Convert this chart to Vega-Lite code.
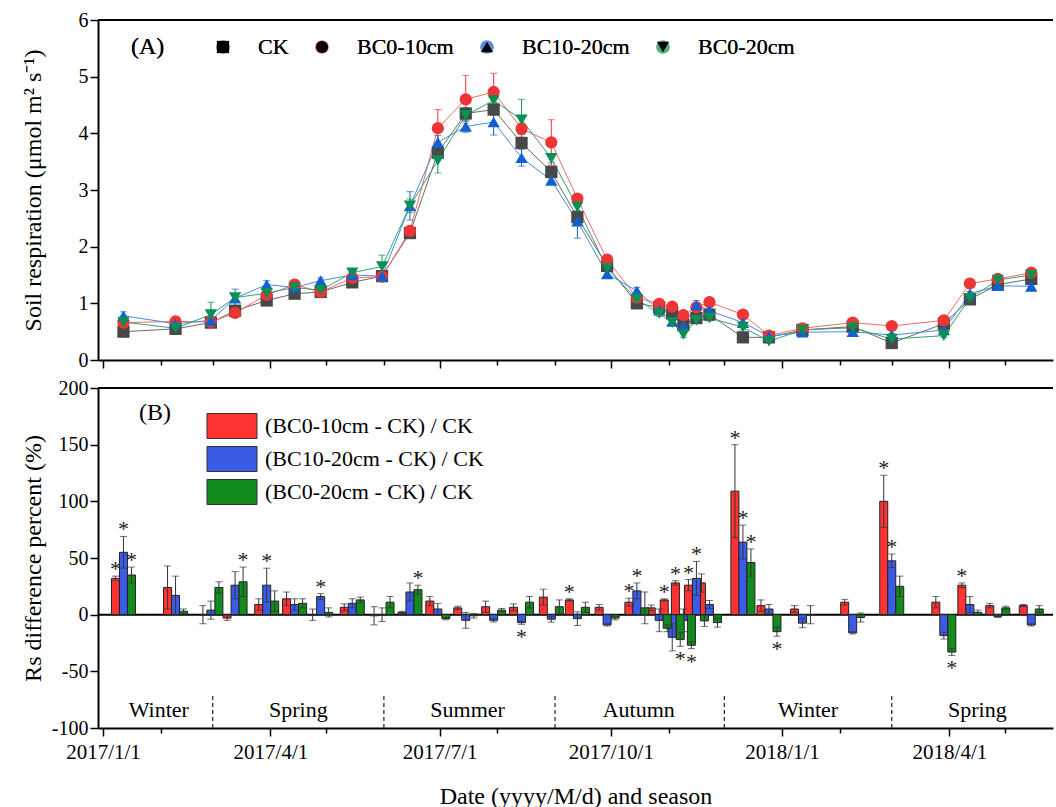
{
  "$schema": "https://vega.github.io/schema/vega-lite/v6.json",
  "padding": {"left": 21, "top": 10, "right": 0, "bottom": 0},
  "spacing": 28,
  "bounds": "flush",
  "resolve": {"scale": {"color": "independent", "x": "shared"}, "legend": {"color": "independent"}},
  "config": {
    "view": {"stroke": null},
    "font": "Liberation Serif",
    "axis": {
      "domainColor": "#000", "domainWidth": 2, "tickColor": "#000", "tickWidth": 1.5,
      "labelFont": "Liberation Serif", "labelFontSize": 20, "labelColor": "#000",
      "titleFont": "Liberation Serif", "titleFontSize": 24, "titleFontWeight": "normal", "titleColor": "#000",
      "grid": false, "labelOverlap": false
    }
  },
  "datasets": {
    "rs": [
      {"d":"2017-01-12","s":"CK","v":0.50,"e":0.05},{"d":"2017-01-12","s":"BC0-10cm","v":0.66,"e":0.06},{"d":"2017-01-12","s":"BC10-20cm","v":0.78,"e":0.07},{"d":"2017-01-12","s":"BC0-20cm","v":0.67,"e":0.05},
      {"d":"2017-02-09","s":"CK","v":0.55,"e":0.05},{"d":"2017-02-09","s":"BC0-10cm","v":0.68,"e":0.05},{"d":"2017-02-09","s":"BC10-20cm","v":0.64,"e":0.06},{"d":"2017-02-09","s":"BC0-20cm","v":0.56,"e":0.06},
      {"d":"2017-02-28","s":"CK","v":0.66,"e":0.05},{"d":"2017-02-28","s":"BC0-10cm","v":0.67,"e":0.05},{"d":"2017-02-28","s":"BC10-20cm","v":0.70,"e":0.06},{"d":"2017-02-28","s":"BC0-20cm","v":0.80,"e":0.22},
      {"d":"2017-03-13","s":"CK","v":0.87,"e":0.05},{"d":"2017-03-13","s":"BC0-10cm","v":0.83,"e":0.05},{"d":"2017-03-13","s":"BC10-20cm","v":1.09,"e":0.16},{"d":"2017-03-13","s":"BC0-20cm","v":1.10,"e":0.06},
      {"d":"2017-03-30","s":"CK","v":1.05,"e":0.07},{"d":"2017-03-30","s":"BC0-10cm","v":1.15,"e":0.05},{"d":"2017-03-30","s":"BC10-20cm","v":1.33,"e":0.07},{"d":"2017-03-30","s":"BC0-20cm","v":1.18,"e":0.05},
      {"d":"2017-04-14","s":"CK","v":1.17,"e":0.05},{"d":"2017-04-14","s":"BC0-10cm","v":1.33,"e":0.08},{"d":"2017-04-14","s":"BC10-20cm","v":1.28,"e":0.06},{"d":"2017-04-14","s":"BC0-20cm","v":1.28,"e":0.05},
      {"d":"2017-04-28","s":"CK","v":1.20,"e":0.05},{"d":"2017-04-28","s":"BC0-10cm","v":1.20,"e":0.08},{"d":"2017-04-28","s":"BC10-20cm","v":1.40,"e":0.05},{"d":"2017-04-28","s":"BC0-20cm","v":1.23,"e":0.05},
      {"d":"2017-05-15","s":"CK","v":1.37,"e":0.08},{"d":"2017-05-15","s":"BC0-10cm","v":1.45,"e":0.05},{"d":"2017-05-15","s":"BC10-20cm","v":1.50,"e":0.05},{"d":"2017-05-15","s":"BC0-20cm","v":1.54,"e":0.05},
      {"d":"2017-05-31","s":"CK","v":1.48,"e":0.06},{"d":"2017-05-31","s":"BC0-10cm","v":1.47,"e":0.06},{"d":"2017-05-31","s":"BC10-20cm","v":1.48,"e":0.06},{"d":"2017-05-31","s":"BC0-20cm","v":1.65,"e":0.20},
      {"d":"2017-06-15","s":"CK","v":2.24,"e":0.05},{"d":"2017-06-15","s":"BC0-10cm","v":2.28,"e":0.06},{"d":"2017-06-15","s":"BC10-20cm","v":2.72,"e":0.25},{"d":"2017-06-15","s":"BC0-20cm","v":2.72,"e":0.12},
      {"d":"2017-06-30","s":"CK","v":3.66,"e":0.08},{"d":"2017-06-30","s":"BC0-10cm","v":4.09,"e":0.33},{"d":"2017-06-30","s":"BC10-20cm","v":3.84,"e":0.12},{"d":"2017-06-30","s":"BC0-20cm","v":3.52,"e":0.22},
      {"d":"2017-07-15","s":"CK","v":4.35,"e":0.10},{"d":"2017-07-15","s":"BC0-10cm","v":4.60,"e":0.42},{"d":"2017-07-15","s":"BC10-20cm","v":4.12,"e":0.10},{"d":"2017-07-15","s":"BC0-20cm","v":4.32,"e":0.10},
      {"d":"2017-07-30","s":"CK","v":4.42,"e":0.10},{"d":"2017-07-30","s":"BC0-10cm","v":4.73,"e":0.33},{"d":"2017-07-30","s":"BC10-20cm","v":4.20,"e":0.23},{"d":"2017-07-30","s":"BC0-20cm","v":4.58,"e":0.10},
      {"d":"2017-08-14","s":"CK","v":3.83,"e":0.10},{"d":"2017-08-14","s":"BC0-10cm","v":4.08,"e":0.10},{"d":"2017-08-14","s":"BC10-20cm","v":3.57,"e":0.15},{"d":"2017-08-14","s":"BC0-20cm","v":4.24,"e":0.36},
      {"d":"2017-08-30","s":"CK","v":3.32,"e":0.08},{"d":"2017-08-30","s":"BC0-10cm","v":3.84,"e":0.40},{"d":"2017-08-30","s":"BC10-20cm","v":3.17,"e":0.06},{"d":"2017-08-30","s":"BC0-20cm","v":3.56,"e":0.08},
      {"d":"2017-09-13","s":"CK","v":2.52,"e":0.06},{"d":"2017-09-13","s":"BC0-10cm","v":2.85,"e":0.06},{"d":"2017-09-13","s":"BC10-20cm","v":2.45,"e":0.30},{"d":"2017-09-13","s":"BC0-20cm","v":2.70,"e":0.06},
      {"d":"2017-09-29","s":"CK","v":1.66,"e":0.05},{"d":"2017-09-29","s":"BC0-10cm","v":1.77,"e":0.05},{"d":"2017-09-29","s":"BC10-20cm","v":1.52,"e":0.05},{"d":"2017-09-29","s":"BC0-20cm","v":1.62,"e":0.05},
      {"d":"2017-10-15","s":"CK","v":1.00,"e":0.06},{"d":"2017-10-15","s":"BC0-10cm","v":1.10,"e":0.05},{"d":"2017-10-15","s":"BC10-20cm","v":1.22,"e":0.06},{"d":"2017-10-15","s":"BC0-20cm","v":1.07,"e":0.05},
      {"d":"2017-10-27","s":"CK","v":0.93,"e":0.05},{"d":"2017-10-27","s":"BC0-10cm","v":0.99,"e":0.05},{"d":"2017-10-27","s":"BC10-20cm","v":0.88,"e":0.05},{"d":"2017-10-27","s":"BC0-20cm","v":0.82,"e":0.05},
      {"d":"2017-11-03","s":"CK","v":0.82,"e":0.05},{"d":"2017-11-03","s":"BC0-10cm","v":0.94,"e":0.05},{"d":"2017-11-03","s":"BC10-20cm","v":0.68,"e":0.06},{"d":"2017-11-03","s":"BC0-20cm","v":0.66,"e":0.05},
      {"d":"2017-11-09","s":"CK","v":0.62,"e":0.05},{"d":"2017-11-09","s":"BC0-10cm","v":0.79,"e":0.05},{"d":"2017-11-09","s":"BC10-20cm","v":0.60,"e":0.05},{"d":"2017-11-09","s":"BC0-20cm","v":0.45,"e":0.05},
      {"d":"2017-11-16","s":"CK","v":0.74,"e":0.05},{"d":"2017-11-16","s":"BC0-10cm","v":0.93,"e":0.05},{"d":"2017-11-16","s":"BC10-20cm","v":0.97,"e":0.08},{"d":"2017-11-16","s":"BC0-20cm","v":0.70,"e":0.05},
      {"d":"2017-11-23","s":"CK","v":0.80,"e":0.05},{"d":"2017-11-23","s":"BC0-10cm","v":1.02,"e":0.05},{"d":"2017-11-23","s":"BC10-20cm","v":0.87,"e":0.05},{"d":"2017-11-23","s":"BC0-20cm","v":0.74,"e":0.05},
      {"d":"2017-12-11","s":"CK","v":0.40,"e":0.04},{"d":"2017-12-11","s":"BC0-10cm","v":0.80,"e":0.05},{"d":"2017-12-11","s":"BC10-20cm","v":0.66,"e":0.05},{"d":"2017-12-11","s":"BC0-20cm","v":0.58,"e":0.05},
      {"d":"2017-12-25","s":"CK","v":0.40,"e":0.03},{"d":"2017-12-25","s":"BC0-10cm","v":0.43,"e":0.03},{"d":"2017-12-25","s":"BC10-20cm","v":0.42,"e":0.03},{"d":"2017-12-25","s":"BC0-20cm","v":0.33,"e":0.03},
      {"d":"2018-01-12","s":"CK","v":0.53,"e":0.03},{"d":"2018-01-12","s":"BC0-10cm","v":0.56,"e":0.03},{"d":"2018-01-12","s":"BC10-20cm","v":0.49,"e":0.03},{"d":"2018-01-12","s":"BC0-20cm","v":0.53,"e":0.03},
      {"d":"2018-02-08","s":"CK","v":0.59,"e":0.03},{"d":"2018-02-08","s":"BC0-10cm","v":0.66,"e":0.03},{"d":"2018-02-08","s":"BC10-20cm","v":0.50,"e":0.03},{"d":"2018-02-08","s":"BC0-20cm","v":0.57,"e":0.03},
      {"d":"2018-03-01","s":"CK","v":0.30,"e":0.03},{"d":"2018-03-01","s":"BC0-10cm","v":0.60,"e":0.05},{"d":"2018-03-01","s":"BC10-20cm","v":0.44,"e":0.03},{"d":"2018-03-01","s":"BC0-20cm","v":0.37,"e":0.03},
      {"d":"2018-03-29","s":"CK","v":0.64,"e":0.03},{"d":"2018-03-29","s":"BC0-10cm","v":0.70,"e":0.04},{"d":"2018-03-29","s":"BC10-20cm","v":0.53,"e":0.03},{"d":"2018-03-29","s":"BC0-20cm","v":0.43,"e":0.03},
      {"d":"2018-04-12","s":"CK","v":1.07,"e":0.04},{"d":"2018-04-12","s":"BC0-10cm","v":1.35,"e":0.06},{"d":"2018-04-12","s":"BC10-20cm","v":1.17,"e":0.04},{"d":"2018-04-12","s":"BC0-20cm","v":1.09,"e":0.04},
      {"d":"2018-04-27","s":"CK","v":1.33,"e":0.04},{"d":"2018-04-27","s":"BC0-10cm","v":1.43,"e":0.04},{"d":"2018-04-27","s":"BC10-20cm","v":1.31,"e":0.04},{"d":"2018-04-27","s":"BC0-20cm","v":1.41,"e":0.04},
      {"d":"2018-05-15","s":"CK","v":1.43,"e":0.04},{"d":"2018-05-15","s":"BC0-10cm","v":1.54,"e":0.04},{"d":"2018-05-15","s":"BC10-20cm","v":1.30,"e":0.04},{"d":"2018-05-15","s":"BC0-20cm","v":1.50,"e":0.04}
    ],
    "diff": [
      {"d":"2017-01-12","s":"(BC0-10cm - CK) / CK","v":32,"e":2,"sig":1},{"d":"2017-01-12","s":"(BC10-20cm - CK) / CK","v":55,"e":14,"sig":1},{"d":"2017-01-12","s":"(BC0-20cm - CK) / CK","v":35,"e":7,"sig":1},
      {"d":"2017-02-09","s":"(BC0-10cm - CK) / CK","v":24,"e":19,"sig":0},{"d":"2017-02-09","s":"(BC10-20cm - CK) / CK","v":17,"e":17,"sig":0},{"d":"2017-02-09","s":"(BC0-20cm - CK) / CK","v":3,"e":2,"sig":0},
      {"d":"2017-02-28","s":"(BC0-10cm - CK) / CK","v":0,"e":8,"sig":0},{"d":"2017-02-28","s":"(BC10-20cm - CK) / CK","v":4,"e":8,"sig":0},{"d":"2017-02-28","s":"(BC0-20cm - CK) / CK","v":24,"e":5,"sig":0},
      {"d":"2017-03-13","s":"(BC0-10cm - CK) / CK","v":-3,"e":2,"sig":0},{"d":"2017-03-13","s":"(BC10-20cm - CK) / CK","v":26,"e":12,"sig":0},{"d":"2017-03-13","s":"(BC0-20cm - CK) / CK","v":29,"e":13,"sig":1},
      {"d":"2017-03-30","s":"(BC0-10cm - CK) / CK","v":9,"e":5,"sig":0},{"d":"2017-03-30","s":"(BC10-20cm - CK) / CK","v":26,"e":15,"sig":1},{"d":"2017-03-30","s":"(BC0-20cm - CK) / CK","v":12,"e":9,"sig":0},
      {"d":"2017-04-14","s":"(BC0-10cm - CK) / CK","v":14,"e":6,"sig":0},{"d":"2017-04-14","s":"(BC10-20cm - CK) / CK","v":9,"e":5,"sig":0},{"d":"2017-04-14","s":"(BC0-20cm - CK) / CK","v":10,"e":4,"sig":0},
      {"d":"2017-04-28","s":"(BC0-10cm - CK) / CK","v":0,"e":5,"sig":0},{"d":"2017-04-28","s":"(BC10-20cm - CK) / CK","v":16,"e":2.5,"sig":1},{"d":"2017-04-28","s":"(BC0-20cm - CK) / CK","v":2,"e":4,"sig":0},
      {"d":"2017-05-15","s":"(BC0-10cm - CK) / CK","v":6.5,"e":3,"sig":0},{"d":"2017-05-15","s":"(BC10-20cm - CK) / CK","v":10,"e":4,"sig":0},{"d":"2017-05-15","s":"(BC0-20cm - CK) / CK","v":13,"e":2.5,"sig":0},
      {"d":"2017-05-31","s":"(BC0-10cm - CK) / CK","v":-1,"e":8,"sig":0},{"d":"2017-05-31","s":"(BC10-20cm - CK) / CK","v":0,"e":6,"sig":0},{"d":"2017-05-31","s":"(BC0-20cm - CK) / CK","v":11,"e":5,"sig":0},
      {"d":"2017-06-15","s":"(BC0-10cm - CK) / CK","v":2,"e":1,"sig":0},{"d":"2017-06-15","s":"(BC10-20cm - CK) / CK","v":20,"e":8,"sig":0},{"d":"2017-06-15","s":"(BC0-20cm - CK) / CK","v":22,"e":4,"sig":1},
      {"d":"2017-06-30","s":"(BC0-10cm - CK) / CK","v":12,"e":4,"sig":0},{"d":"2017-06-30","s":"(BC10-20cm - CK) / CK","v":5,"e":5,"sig":0},{"d":"2017-06-30","s":"(BC0-20cm - CK) / CK","v":-3.5,"e":1,"sig":0},
      {"d":"2017-07-15","s":"(BC0-10cm - CK) / CK","v":6,"e":1.5,"sig":0},{"d":"2017-07-15","s":"(BC10-20cm - CK) / CK","v":-5,"e":7,"sig":0},{"d":"2017-07-15","s":"(BC0-20cm - CK) / CK","v":-1,"e":2,"sig":0},
      {"d":"2017-07-30","s":"(BC0-10cm - CK) / CK","v":7,"e":5,"sig":0},{"d":"2017-07-30","s":"(BC10-20cm - CK) / CK","v":-5,"e":1.5,"sig":0},{"d":"2017-07-30","s":"(BC0-20cm - CK) / CK","v":4,"e":1.5,"sig":0},
      {"d":"2017-08-14","s":"(BC0-10cm - CK) / CK","v":6.5,"e":3,"sig":0},{"d":"2017-08-14","s":"(BC10-20cm - CK) / CK","v":-7,"e":1.5,"sig":1},{"d":"2017-08-14","s":"(BC0-20cm - CK) / CK","v":11,"e":5,"sig":0},
      {"d":"2017-08-30","s":"(BC0-10cm - CK) / CK","v":15.5,"e":7,"sig":0},{"d":"2017-08-30","s":"(BC10-20cm - CK) / CK","v":-4,"e":2.5,"sig":0},{"d":"2017-08-30","s":"(BC0-20cm - CK) / CK","v":7,"e":6,"sig":0},
      {"d":"2017-09-13","s":"(BC0-10cm - CK) / CK","v":13,"e":1,"sig":1},{"d":"2017-09-13","s":"(BC10-20cm - CK) / CK","v":-3.5,"e":6,"sig":0},{"d":"2017-09-13","s":"(BC0-20cm - CK) / CK","v":6.5,"e":4.5,"sig":0},
      {"d":"2017-09-29","s":"(BC0-10cm - CK) / CK","v":6.5,"e":2.5,"sig":0},{"d":"2017-09-29","s":"(BC10-20cm - CK) / CK","v":-9,"e":1,"sig":0},{"d":"2017-09-29","s":"(BC0-20cm - CK) / CK","v":-3,"e":1.5,"sig":0},
      {"d":"2017-10-15","s":"(BC0-10cm - CK) / CK","v":11,"e":3.5,"sig":1},{"d":"2017-10-15","s":"(BC10-20cm - CK) / CK","v":21,"e":7,"sig":1},{"d":"2017-10-15","s":"(BC0-20cm - CK) / CK","v":6,"e":14,"sig":0},
      {"d":"2017-10-27","s":"(BC0-10cm - CK) / CK","v":6,"e":2.5,"sig":0},{"d":"2017-10-27","s":"(BC10-20cm - CK) / CK","v":-5,"e":10,"sig":0},{"d":"2017-10-27","s":"(BC0-20cm - CK) / CK","v":-12,"e":3,"sig":0},
      {"d":"2017-11-03","s":"(BC0-10cm - CK) / CK","v":13,"e":1,"sig":1},{"d":"2017-11-03","s":"(BC10-20cm - CK) / CK","v":-20,"e":12,"sig":0},{"d":"2017-11-03","s":"(BC0-20cm - CK) / CK","v":-22,"e":6,"sig":1},
      {"d":"2017-11-09","s":"(BC0-10cm - CK) / CK","v":28,"e":2,"sig":1},{"d":"2017-11-09","s":"(BC10-20cm - CK) / CK","v":-5,"e":10,"sig":0},{"d":"2017-11-09","s":"(BC0-20cm - CK) / CK","v":-27,"e":3,"sig":1},
      {"d":"2017-11-16","s":"(BC0-10cm - CK) / CK","v":26,"e":5,"sig":1},{"d":"2017-11-16","s":"(BC10-20cm - CK) / CK","v":32,"e":15,"sig":1},{"d":"2017-11-16","s":"(BC0-20cm - CK) / CK","v":-5.5,"e":5,"sig":0},
      {"d":"2017-11-23","s":"(BC0-10cm - CK) / CK","v":28,"e":8,"sig":0},{"d":"2017-11-23","s":"(BC10-20cm - CK) / CK","v":9,"e":3.5,"sig":0},{"d":"2017-11-23","s":"(BC0-20cm - CK) / CK","v":-7,"e":4,"sig":0},
      {"d":"2017-12-11","s":"(BC0-10cm - CK) / CK","v":109,"e":41,"sig":1},{"d":"2017-12-11","s":"(BC10-20cm - CK) / CK","v":64,"e":15,"sig":1},{"d":"2017-12-11","s":"(BC0-20cm - CK) / CK","v":46,"e":12,"sig":1},
      {"d":"2017-12-25","s":"(BC0-10cm - CK) / CK","v":8,"e":5,"sig":0},{"d":"2017-12-25","s":"(BC10-20cm - CK) / CK","v":5,"e":4,"sig":0},{"d":"2017-12-25","s":"(BC0-20cm - CK) / CK","v":-15,"e":4,"sig":1},
      {"d":"2018-01-12","s":"(BC0-10cm - CK) / CK","v":5,"e":3,"sig":0},{"d":"2018-01-12","s":"(BC10-20cm - CK) / CK","v":-7.5,"e":4,"sig":0},{"d":"2018-01-12","s":"(BC0-20cm - CK) / CK","v":0,"e":8,"sig":0},
      {"d":"2018-02-08","s":"(BC0-10cm - CK) / CK","v":11,"e":2.5,"sig":0},{"d":"2018-02-08","s":"(BC10-20cm - CK) / CK","v":-16,"e":1,"sig":0},{"d":"2018-02-08","s":"(BC0-20cm - CK) / CK","v":-2.5,"e":4,"sig":0},
      {"d":"2018-03-01","s":"(BC0-10cm - CK) / CK","v":100,"e":23,"sig":1},{"d":"2018-03-01","s":"(BC10-20cm - CK) / CK","v":47.5,"e":6,"sig":1},{"d":"2018-03-01","s":"(BC0-20cm - CK) / CK","v":25,"e":9,"sig":0},
      {"d":"2018-03-29","s":"(BC0-10cm - CK) / CK","v":11,"e":5,"sig":0},{"d":"2018-03-29","s":"(BC10-20cm - CK) / CK","v":-18.5,"e":3,"sig":0},{"d":"2018-03-29","s":"(BC0-20cm - CK) / CK","v":-33,"e":3,"sig":1},
      {"d":"2018-04-12","s":"(BC0-10cm - CK) / CK","v":26,"e":2,"sig":1},{"d":"2018-04-12","s":"(BC10-20cm - CK) / CK","v":9,"e":7,"sig":0},{"d":"2018-04-12","s":"(BC0-20cm - CK) / CK","v":2,"e":2,"sig":0},
      {"d":"2018-04-27","s":"(BC0-10cm - CK) / CK","v":8,"e":2,"sig":0},{"d":"2018-04-27","s":"(BC10-20cm - CK) / CK","v":-1.5,"e":1,"sig":0},{"d":"2018-04-27","s":"(BC0-20cm - CK) / CK","v":6,"e":1.5,"sig":0},
      {"d":"2018-05-15","s":"(BC0-10cm - CK) / CK","v":8,"e":1,"sig":0},{"d":"2018-05-15","s":"(BC10-20cm - CK) / CK","v":-9,"e":1,"sig":0},{"d":"2018-05-15","s":"(BC0-20cm - CK) / CK","v":5,"e":3,"sig":0}
    ],
    "seasons": [
      {"d":"2017-01-31","name":"Winter"},{"d":"2017-04-16","name":"Spring"},{"d":"2017-07-16","name":"Summer"},
      {"d":"2017-10-16","name":"Autumn"},{"d":"2018-01-15","name":"Winter"},{"d":"2018-04-16","name":"Spring"}
    ],
    "bounds": [
      {"d":"2017-03-01"},{"d":"2017-06-01"},{"d":"2017-09-01"},{"d":"2017-12-01"},{"d":"2018-03-01"}
    ]
  },
  "vconcat": [
    {
      "width": 955,
      "height": 340,
      "data": {"name": "rs"},
      "encoding": {
        "x": {
          "field": "d", "type": "temporal",
          "scale": {"type": "utc", "domain": [{"year":2017,"month":1,"date":1,"utc":true},{"year":2018,"month":5,"date":24,"utc":true}]},
          "axis": {
            "title": null, "labels": false,
            "values": [
              {"year":2017,"month":1,"date":1,"utc":true},{"year":2017,"month":2,"date":1,"utc":true},{"year":2017,"month":3,"date":1,"utc":true},
              {"year":2017,"month":4,"date":1,"utc":true},{"year":2017,"month":5,"date":1,"utc":true},{"year":2017,"month":6,"date":1,"utc":true},
              {"year":2017,"month":7,"date":1,"utc":true},{"year":2017,"month":8,"date":1,"utc":true},{"year":2017,"month":9,"date":1,"utc":true},
              {"year":2017,"month":10,"date":1,"utc":true},{"year":2017,"month":11,"date":1,"utc":true},{"year":2017,"month":12,"date":1,"utc":true},
              {"year":2018,"month":1,"date":1,"utc":true},{"year":2018,"month":2,"date":1,"utc":true},{"year":2018,"month":3,"date":1,"utc":true},
              {"year":2018,"month":4,"date":1,"utc":true},{"year":2018,"month":5,"date":1,"utc":true}
            ],
            "tickSize": {"condition": {"test": "utcmonth(datum.value) % 3 === 0", "value": 8}, "value": 5}
          }
        }
      },
      "layer": [
        {
          "data": {"values": [{}]},
          "mark": {"type": "rule", "color": "#000", "strokeWidth": 2},
          "encoding": {"x": null, "y": {"datum": 6, "type": "quantitative"}}
        },
        {
          "mark": {"type": "line", "strokeWidth": 1},
          "encoding": {
            "y": {"field": "v", "type": "quantitative", "scale": {"domain": [0, 6], "nice": false},
              "axis": {
                "title": "Soil respiration (μmol m² s⁻¹)", "titleX": -53,
                "values": [0,0.5,1,1.5,2,2.5,3,3.5,4,4.5,5,5.5,6],
                "labelExpr": "datum.value % 1 === 0 ? '' + datum.value : ''",
                "tickSize": {"condition": {"test": "datum.value % 1 === 0", "value": 8}, "value": 5}
              }},
            "stroke": {"field": "s", "type": "nominal", "legend": null,
              "scale": {"domain": ["BC0-20cm","BC10-20cm","BC0-10cm","CK"], "range": ["#3aa070","#4a8ae0","#f26a6a","#6a6a6a"]}}
          }
        },
        {
          "transform": [{"calculate": "datum.v - datum.e", "as": "lo"}, {"calculate": "datum.v + datum.e", "as": "hi"}],
          "layer": [
            {"mark": {"type": "rule", "strokeWidth": 1},
             "encoding": {"y": {"field": "lo", "type": "quantitative"}, "y2": {"field": "hi"},
               "color": {"field": "s", "type": "nominal"}}},
            {"mark": {"type": "tick", "orient": "horizontal", "size": 7, "thickness": 1},
             "encoding": {"y": {"field": "lo", "type": "quantitative"}, "color": {"field": "s", "type": "nominal"}}},
            {"mark": {"type": "tick", "orient": "horizontal", "size": 7, "thickness": 1},
             "encoding": {"y": {"field": "hi", "type": "quantitative"}, "color": {"field": "s", "type": "nominal"}}}
          ]
        },
        {
          "mark": {"type": "point", "filled": true, "size": 150, "opacity": 1},
          "encoding": {
            "y": {"field": "v", "type": "quantitative"},
            "shape": {"field": "s", "type": "nominal",
              "scale": {"domain": ["CK","BC0-10cm","BC10-20cm","BC0-20cm"], "range": ["square","circle","triangle-up","triangle-down"]},
              "legend": {
                "title": "(A)", "orient": "none", "legendX": 33, "legendY": 16, "direction": "horizontal",
                "titleOrient": "left", "titleFont": "Liberation Serif", "titleFontSize": 24, "titleFontWeight": "normal", "titleColor": "#000", "titlePadding": 27,
                "labelFont": "Liberation Serif", "labelFontSize": 22, "labelColor": "#000", "labelLimit": 0,
                "symbolSize": 150, "symbolOffset": 20, "labelOffset": 24, "columnPadding": 2,
                "encode": {"symbols": {
                  "fill": {"signal": "datum.value === 'CK' ? '#484848' : datum.value === 'BC0-10cm' ? '#ee3535' : datum.value === 'BC10-20cm' ? '#1060d0' : '#0a9050'"},
                  "strokeWidth": {"value": 1}, "opacity": {"value": 1}
                }}
              }},
            "color": {"field": "s", "type": "nominal",
              "scale": {"domain": ["CK","BC0-10cm","BC10-20cm","BC0-20cm"], "range": ["#484848","#ee3535","#1060d0","#0a9050"]},
              "legend": {
                "title": "(A)", "orient": "none", "legendX": 33, "legendY": 16, "direction": "horizontal",
                "titleOrient": "left", "titleFont": "Liberation Serif", "titleFontSize": 24, "titleFontWeight": "normal", "titleColor": "#000", "titlePadding": 27,
                "labelFont": "Liberation Serif", "labelFontSize": 22, "labelColor": "#000", "labelLimit": 0,
                "symbolSize": 150, "symbolOffset": 20, "labelOffset": 24, "columnPadding": 2,
                "encode": {"symbols": {
                  "fill": {"signal": "datum.value === 'CK' ? '#484848' : datum.value === 'BC0-10cm' ? '#ee3535' : datum.value === 'BC10-20cm' ? '#1060d0' : '#0a9050'"},
                  "strokeWidth": {"value": 1}, "opacity": {"value": 1}
                }}
              }}
          }
        }
      ]
    },
    {
      "width": 955,
      "height": 340,
      "encoding": {
        "x": {
          "field": "d", "type": "temporal",
          "scale": {"type": "utc", "domain": [{"year":2017,"month":1,"date":1,"utc":true},{"year":2018,"month":5,"date":24,"utc":true}]},
          "axis": {
            "title": "Date (yyyy/M/d) and season", "titlePadding": 22, "labelFontSize": 21,
            "values": [
              {"year":2017,"month":1,"date":1,"utc":true},{"year":2017,"month":2,"date":1,"utc":true},
              {"year":2017,"month":4,"date":1,"utc":true},{"year":2017,"month":5,"date":1,"utc":true},
              {"year":2017,"month":7,"date":1,"utc":true},{"year":2017,"month":8,"date":1,"utc":true},
              {"year":2017,"month":10,"date":1,"utc":true},{"year":2017,"month":11,"date":1,"utc":true},
              {"year":2018,"month":1,"date":1,"utc":true},{"year":2018,"month":2,"date":1,"utc":true},
              {"year":2018,"month":4,"date":1,"utc":true},{"year":2018,"month":5,"date":1,"utc":true}
            ],
            "labelExpr": "utcmonth(datum.value) % 3 === 0 ? utcFormat(datum.value, '%Y/%-m/%-d') : ''",
            "labelPadding": 5,
            "tickSize": {"condition": {"test": "utcmonth(datum.value) % 3 === 0", "value": 8}, "value": 5}
          }
        }
      },
      "layer": [
        {
          "data": {"values": [{}]},
          "mark": {"type": "rule", "color": "#000", "strokeWidth": 2},
          "encoding": {"x": null, "y": {"datum": 200, "type": "quantitative",
            "scale": {"domain": [-100, 200], "nice": false},
            "axis": {
              "title": "Rs difference percent (%)", "titleX": -53,
              "values": [-100,-75,-50,-25,0,25,50,75,100,125,150,175,200],
              "labelExpr": "datum.value % 50 === 0 ? '' + datum.value : ''",
              "tickSize": {"condition": {"test": "datum.value % 50 === 0", "value": 8}, "value": 5}
            }}}
        },
        {
          "data": {"values": [{}]},
          "mark": {"type": "rule", "color": "#000", "strokeWidth": 2},
          "encoding": {"x": null, "y": {"datum": 0, "type": "quantitative"}}
        },
        {
          "data": {"name": "bounds"},
          "mark": {"type": "rule", "color": "#222", "strokeWidth": 1.2, "strokeDash": [4, 3]},
          "encoding": {"y": {"datum": -100, "type": "quantitative"}, "y2": {"datum": -70}}
        },
        {
          "data": {"name": "seasons"},
          "mark": {"type": "text", "font": "Liberation Serif", "fontSize": 22, "fill": "#000", "baseline": "middle"},
          "encoding": {"y": {"datum": -84, "type": "quantitative"}, "text": {"field": "name"}}
        },
        {
          "data": {"name": "diff"},
          "transform": [
            {"filter": "datum.s === '(BC0-10cm - CK) / CK'"},
            {"calculate": "datum.v - datum.e", "as": "lo"}, {"calculate": "datum.v + datum.e", "as": "hi"}
          ],
          "layer": [
            {"mark": {"type": "bar", "width": 8, "xOffset": -8, "stroke": "#222", "strokeWidth": 1},
             "encoding": {"y": {"field": "v", "type": "quantitative", "stack": null},
               "color": {"field": "s", "type": "nominal",
                 "scale": {"domain": ["(BC0-10cm - CK) / CK","(BC10-20cm - CK) / CK","(BC0-20cm - CK) / CK"], "range": ["#ff3333","#3a5be6","#128a1e"]},
                 "legend": {
                    "title": "(B)", "orient": "none", "legendX": 41, "legendY": 25, "direction": "vertical",
                    "titleOrient": "left", "titleAnchor": "start", "titleBaseline": "middle", "titleFont": "Liberation Serif", "titleFontSize": 24, "titleFontWeight": "normal", "titleColor": "#000", "titlePadding": 36,
                    "labelFont": "Liberation Serif", "labelFontSize": 22, "labelColor": "#000", "labelLimit": 0,
                    "symbolType": "M-2,-1H2V1H-2Z", "symbolSize": 625, "symbolOffset": 12, "labelOffset": 20, "rowPadding": 3,
                    "symbolStrokeColor": "#333", "symbolStrokeWidth": 1
                 }}}},
            {"mark": {"type": "rule", "color": "#333", "strokeWidth": 1, "xOffset": -8},
             "encoding": {"y": {"field": "lo", "type": "quantitative"}, "y2": {"field": "hi"}}},
            {"mark": {"type": "tick", "orient": "horizontal", "size": 7, "thickness": 1, "color": "#333", "xOffset": -8},
             "encoding": {"y": {"field": "lo", "type": "quantitative"}}},
            {"mark": {"type": "tick", "orient": "horizontal", "size": 7, "thickness": 1, "color": "#333", "xOffset": -8},
             "encoding": {"y": {"field": "hi", "type": "quantitative"}}},
            {"transform": [{"filter": "datum.sig === 1 && datum.v >= 0"}],
             "mark": {"type": "text", "text": "*", "font": "Liberation Serif", "fontSize": 22, "fill": "#222", "baseline": "alphabetic", "dy": 0, "xOffset": -8},
             "encoding": {"y": {"field": "hi", "type": "quantitative"}}},
            {"transform": [{"filter": "datum.sig === 1 && datum.v < 0"}],
             "mark": {"type": "text", "text": "*", "font": "Liberation Serif", "fontSize": 22, "fill": "#222", "baseline": "alphabetic", "dy": 20, "xOffset": -8},
             "encoding": {"y": {"field": "lo", "type": "quantitative"}}}
          ]
        },
        {
          "data": {"name": "diff"},
          "transform": [
            {"filter": "datum.s === '(BC10-20cm - CK) / CK'"},
            {"calculate": "datum.v - datum.e", "as": "lo"}, {"calculate": "datum.v + datum.e", "as": "hi"}
          ],
          "layer": [
            {"mark": {"type": "bar", "width": 8, "xOffset": 0, "stroke": "#222", "strokeWidth": 1},
             "encoding": {"y": {"field": "v", "type": "quantitative", "stack": null},
               "color": {"field": "s", "type": "nominal", "legend": null}}},
            {"mark": {"type": "rule", "color": "#333", "strokeWidth": 1},
             "encoding": {"y": {"field": "lo", "type": "quantitative"}, "y2": {"field": "hi"}}},
            {"mark": {"type": "tick", "orient": "horizontal", "size": 7, "thickness": 1, "color": "#333"},
             "encoding": {"y": {"field": "lo", "type": "quantitative"}}},
            {"mark": {"type": "tick", "orient": "horizontal", "size": 7, "thickness": 1, "color": "#333"},
             "encoding": {"y": {"field": "hi", "type": "quantitative"}}},
            {"transform": [{"filter": "datum.sig === 1 && datum.v >= 0"}],
             "mark": {"type": "text", "text": "*", "font": "Liberation Serif", "fontSize": 22, "fill": "#222", "baseline": "alphabetic", "dy": 0},
             "encoding": {"y": {"field": "hi", "type": "quantitative"}}},
            {"transform": [{"filter": "datum.sig === 1 && datum.v < 0"}],
             "mark": {"type": "text", "text": "*", "font": "Liberation Serif", "fontSize": 22, "fill": "#222", "baseline": "alphabetic", "dy": 20},
             "encoding": {"y": {"field": "lo", "type": "quantitative"}}}
          ]
        },
        {
          "data": {"name": "diff"},
          "transform": [
            {"filter": "datum.s === '(BC0-20cm - CK) / CK'"},
            {"calculate": "datum.v - datum.e", "as": "lo"}, {"calculate": "datum.v + datum.e", "as": "hi"}
          ],
          "layer": [
            {"mark": {"type": "bar", "width": 8, "xOffset": 8, "stroke": "#222", "strokeWidth": 1},
             "encoding": {"y": {"field": "v", "type": "quantitative", "stack": null},
               "color": {"field": "s", "type": "nominal", "legend": null}}},
            {"mark": {"type": "rule", "color": "#333", "strokeWidth": 1, "xOffset": 8},
             "encoding": {"y": {"field": "lo", "type": "quantitative"}, "y2": {"field": "hi"}}},
            {"mark": {"type": "tick", "orient": "horizontal", "size": 7, "thickness": 1, "color": "#333", "xOffset": 8},
             "encoding": {"y": {"field": "lo", "type": "quantitative"}}},
            {"mark": {"type": "tick", "orient": "horizontal", "size": 7, "thickness": 1, "color": "#333", "xOffset": 8},
             "encoding": {"y": {"field": "hi", "type": "quantitative"}}},
            {"transform": [{"filter": "datum.sig === 1 && datum.v >= 0"}],
             "mark": {"type": "text", "text": "*", "font": "Liberation Serif", "fontSize": 22, "fill": "#222", "baseline": "alphabetic", "dy": 0, "xOffset": 8},
             "encoding": {"y": {"field": "hi", "type": "quantitative"}}},
            {"transform": [{"filter": "datum.sig === 1 && datum.v < 0"}],
             "mark": {"type": "text", "text": "*", "font": "Liberation Serif", "fontSize": 22, "fill": "#222", "baseline": "alphabetic", "dy": 20, "xOffset": 8},
             "encoding": {"y": {"field": "lo", "type": "quantitative"}}}
          ]
        }
      ]
    }
  ]
}
